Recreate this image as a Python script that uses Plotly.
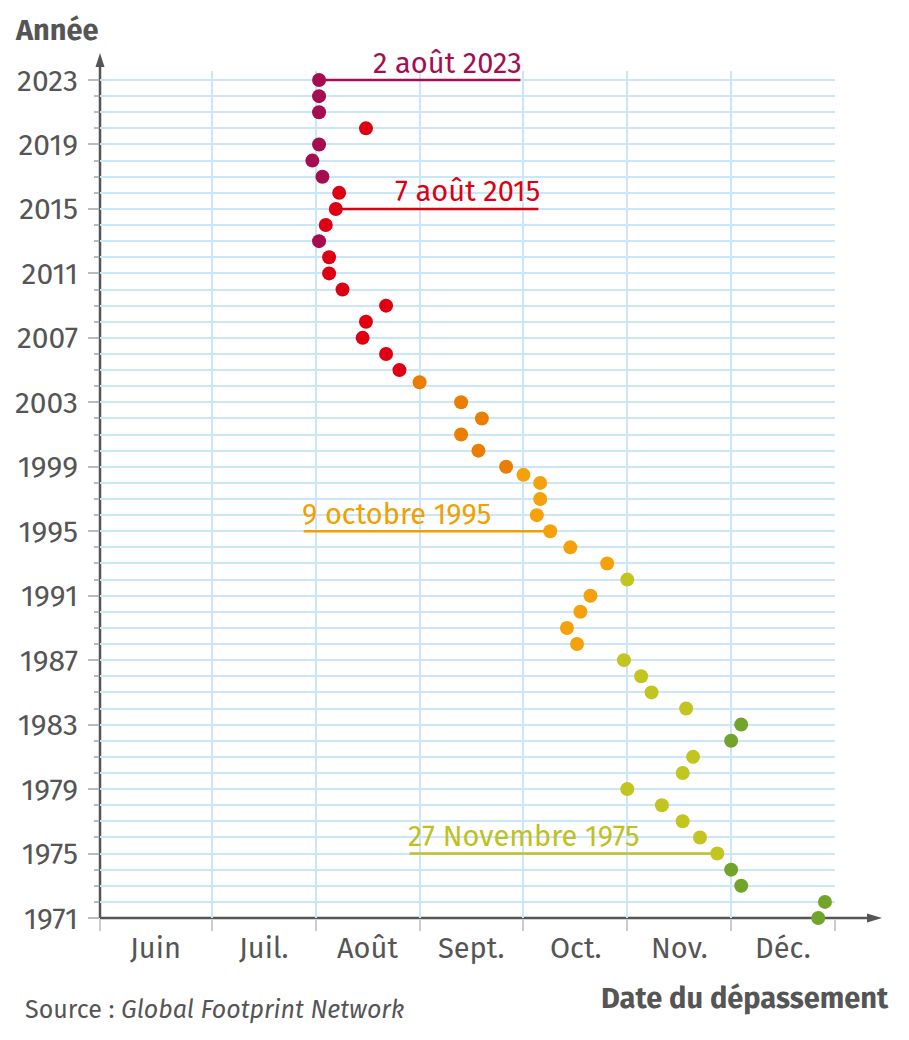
import calendar
import plotly.graph_objects as go

# ---------------- data ----------------
years = [2023, 2022, 2021, 2020, 2019, 2018, 2017, 2016, 2015, 2014, 2013, 2012,
         2011, 2010, 2009, 2008, 2007, 2006, 2005, 2004.25, 2003, 2002, 2001, 2000,
         1999, 1998.5, 1998, 1997, 1996, 1995, 1994, 1993, 1992, 1991, 1990, 1989,
         1988, 1987, 1986, 1985, 1984, 1983, 1982, 1981, 1980, 1979, 1978, 1977,
         1976, 1975, 1974, 1973, 1972, 1971]
dates = ["08-02", "08-02", "08-02", "08-16", "08-02", "07-31", "08-03", "08-08",
         "08-07", "08-04", "08-02", "08-05", "08-05", "08-09", "08-22", "08-16",
         "08-15", "08-22", "08-26", "09-01", "09-13", "09-19", "09-13", "09-18",
         "09-26", "10-01", "10-06", "10-06", "10-05", "10-09", "10-15", "10-26",
         "11-01", "10-21", "10-18", "10-14", "10-17", "10-31", "11-05", "11-08",
         "11-18", "12-04", "12-01", "11-20", "11-17", "11-01", "11-11", "11-17",
         "11-22", "11-27", "12-01", "12-04", "12-29", "12-27"]
groups = ["P", "P", "P", "R", "P", "P", "P", "R", "R", "R", "P", "R", "R", "R",
          "R", "R", "R", "R", "R", "DO", "DO", "DO", "DO", "DO", "DO", "O", "O",
          "O", "O", "O", "O", "O", "YG", "O", "O", "O", "O", "YG", "YG", "YG",
          "YG", "G", "G", "YG", "YG", "YG", "YG", "YG", "YG", "YG", "G", "G", "G", "G"]

month_names = ["Juin", "Juil.", "Août", "Sept.", "Oct.", "Nov.", "Déc."]
year_ticks = list(range(1971, 2024, 4))

callout_years = [2023, 2015, 1995, 1975]
callout_texts = ["2 août 2023", "7 août 2015", "9 octobre 1995", "27 Novembre 1975"]
callout_groups = ["P", "R", "O", "YG"]

# ---------------- styles ----------------
colors = {"P": "#A60D50", "R": "#DE0012", "DO": "#EB7E00", "O": "#F4A10B",
          "YG": "#C2C41F", "G": "#72A42B"}
text_colors = {"P": "#A60D50", "R": "#DE0012", "O": "#F0A000", "YG": "#BEC11F"}
FONT = "Fira Sans, Open Sans, sans-serif"
GREY = "#555555"
GRID = "#C9E7F8"

OFFX, OFFY = 9, 8  # page body margin / rendering offset
W, H = 909 - 8, 1040 - 8
PL, PR, PT, PB = 101, 836, 71, 918  # plot area in page pixels
L, R, T, B = PL - OFFX, W - (PR - OFFX), PT - OFFY, H - (PB - OFFY)
X0 = 1 - 112 / 104  # axis origin, a little before 1 June
X1 = 7.0


def pos(md):
    m, d = (int(v) for v in md.split("-"))
    n = calendar.monthrange(2001, m)[1]
    return (m - 6) + (d - 1) / n


xs = [pos(d) for d in dates]
mcolors = [colors[g] for g in groups]


def px2paper_x(px):
    return (px - PL) / (PR - PL)


def py2paper_y(py):
    return (PB - py) / (PB - PT)


fig = go.Figure()
fig.add_trace(go.Scatter(
    x=xs, y=years, mode="markers",
    marker=dict(size=14, color=mcolors, line=dict(width=0)),
    cliponaxis=False, hoverinfo="skip", showlegend=False))

# axes
fig.update_xaxes(range=[X0, X1], tickvals=[X0 + 1e-6] + list(range(1, 8)),
                 ticktext=[""] * 8, ticks="outside", ticklen=12, tickwidth=2,
                 tickcolor="#CCCCCC", showgrid=True, gridcolor=GRID, gridwidth=2,
                 zeroline=False, showline=False, fixedrange=True, automargin=False)
fig.update_yaxes(range=[1971, 2023.56], tickvals=year_ticks,
                 ticks="outside", ticklen=11, tickwidth=2, tickcolor="#BBBBBB",
                 tickfont=dict(family=FONT, size=30, color=GREY),
                 ticklabelstandoff=4,
                 showgrid=True, gridcolor=GRID, gridwidth=2,
                 minor=dict(dtick=1, tick0=1971, ticks="outside", ticklen=5,
                            tickwidth=2, tickcolor="#BBBBBB", showgrid=True,
                            gridcolor=GRID, gridwidth=2),
                 zeroline=False, showline=False, fixedrange=True, automargin=False)

# axis lines with arrows
shapes = [
    dict(type="line", xref="paper", yref="paper", x0=0, x1=0,
         y0=0, y1=py2paper_y(64), line=dict(color=GREY, width=2.5), layer="between"),
    dict(type="line", xref="paper", yref="paper", x0=0, x1=px2paper_x(870),
         y0=0, y1=0, line=dict(color=GREY, width=2.5), layer="between"),
    dict(type="path", xref="paper", yref="paper", layer="between",
         path="M {a},{b} L {c},{d} L {e},{d} Z".format(
             a=px2paper_x(101), b=py2paper_y(53), c=px2paper_x(96.5),
             d=py2paper_y(67), e=px2paper_x(105.5)),
         fillcolor=GREY, line=dict(width=0)),
    dict(type="path", xref="paper", yref="paper", layer="between",
         path="M {a},{b} L {c},{d} L {c},{e} Z".format(
             a=px2paper_x(883), b=py2paper_y(918), c=px2paper_x(868),
             d=py2paper_y(913.5), e=py2paper_y(922.5)),
         fillcolor=GREY, line=dict(width=0)),
]

annotations = []
# month labels centred between ticks
bounds = [X0] + list(range(1, 8))
for i, name in enumerate(month_names):
    annotations.append(dict(x=(bounds[i] + bounds[i + 1]) / 2, xref="x",
                            y=py2paper_y(948), yref="paper", text=name,
                            showarrow=False, xanchor="center", yanchor="middle",
                            font=dict(family=FONT, size=29, color=GREY)))

# callouts: line ends (in month units) and text anchors
callout_ends = [1 + (522 - 213) / 104, 1 + (540 - 213) / 104,
                1 + (305 - 213) / 104, 1 + (411 - 213) / 104]
callout_side = ["right", "right", "left", "left"]
for yr, txt, g, end, side in zip(callout_years, callout_texts, callout_groups,
                                 callout_ends, callout_side):
    i = years.index(yr)
    c = text_colors[g]
    shapes.append(dict(type="line", xref="x", yref="y", x0=xs[i], x1=end,
                       y0=yr, y1=yr, line=dict(color=c, width=2.5), layer="between"))
    annotations.append(dict(x=end, xref="x", y=yr, yref="y", text=txt,
                            showarrow=False, xanchor=side, yanchor="middle",
                            xshift=4 if side == "right" else -4,
                            yshift=17, font=dict(family=FONT, size=29, color=c)))

annotations += [
    dict(x=px2paper_x(14), y=py2paper_y(31), xref="paper", yref="paper",
         text="<b>Année</b>", showarrow=False, xanchor="left", yanchor="middle",
         font=dict(family=FONT, size=29, color=GREY)),
    dict(x=px2paper_x(892), y=py2paper_y(998), xref="paper", yref="paper",
         text="<b>Date du dépassement</b>", showarrow=False, xanchor="right",
         yanchor="middle", font=dict(family=FONT, size=29, color=GREY)),
    dict(x=px2paper_x(24), y=py2paper_y(1010), xref="paper", yref="paper",
         text="Source : <i>Global Footprint Network</i>", showarrow=False,
         xanchor="left", yanchor="middle",
         font=dict(family=FONT, size=25, color=GREY)),
]

fig.update_layout(width=W, height=H, margin=dict(l=L, r=R, t=T, b=B),
                  plot_bgcolor="white", paper_bgcolor="white",
                  shapes=shapes, annotations=annotations, showlegend=False)

fig.write_html("out.html")
